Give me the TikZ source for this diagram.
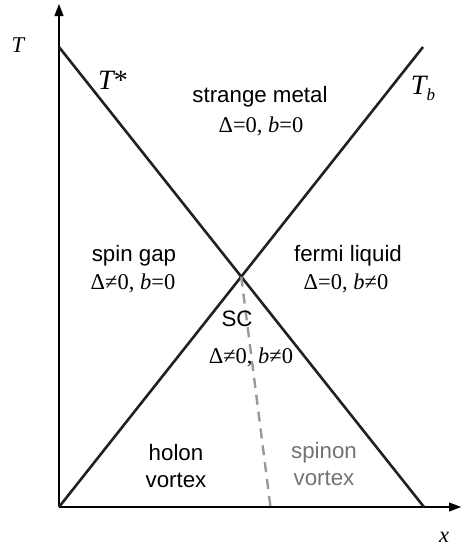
\documentclass[tikz,border=0pt]{standalone}
\usepackage{fontspec}
\setmainfont{Liberation Sans}
\newfontfamily\serifm{Liberation Serif}
\usetikzlibrary{arrows.meta,calc}
\begin{document}
\begin{tikzpicture}[x=1pt,y=-1pt,
  phase/.style={font=\fontsize{22.3}{27}\selectfont, inner sep=0pt, align=center},
  mathlbl/.style={font=\serifm\fontsize{22.5}{26}\selectfont, inner sep=0pt},
  biglbl/.style={font=\serifm\fontsize{28}{32}\selectfont, inner sep=0pt},
  axis/.style={line width=1.2pt, black},
  bound/.style={line width=2.6pt, color=black!87},
  sep/.style={line width=2.4pt, color=black!40, dash pattern=on 10pt off 7pt}]
\useasboundingbox (0,0) rectangle (461,547);
\coordinate (O) at (59,507);
\coordinate (Ytop) at (59,4);
\coordinate (Xend) at (461,507);
\coordinate (A) at (59,47);
\coordinate (B) at (424,507);
\coordinate (C) at (423,47);
\coordinate (D) at (270.5,507);
\coordinate (X) at (intersection of A--B and O--C);
\draw[axis,-{Triangle[length=12pt,width=9pt]}] (O) -- (Ytop);
\draw[axis,-{Triangle[length=12pt,width=9pt]}] (O) -- (Xend);
\draw[bound] (A) -- (B);
\draw[bound] (O) -- (C);
\draw[sep] (X) -- (D);
\node[mathlbl] (T) at (18,45) {\itshape T};
\node[mathlbl] (x) at (444,537) {\itshape x};
\node[biglbl] (Tstar) at (113,80) {\itshape T\upshape *};
\node[biglbl] (Tb) at (423,88) {\itshape T\raisebox{-6pt}{\fontsize{17}{19}\selectfont b}};
\node[phase] (sm) at (260,97) {strange metal};
\node[mathlbl] (smv) at (261,126) {Δ=0, \textit{b}=0};
\node[phase] (sg) at (134,256) {spin gap};
\node[mathlbl] (sgv) at (133,283) {Δ≠0, \textit{b}=0};
\node[phase] (fl) at (348,256) {fermi liquid};
\node[mathlbl] (flv) at (346,283) {Δ=0, \textit{b}≠0};
\node[phase] (sc) at (237,319) {SC};
\node[mathlbl] (scv) at (251,357) {Δ≠0, \textit{b}≠0};
\node[phase] (hv) at (176,466) {holon\\vortex};
\node[phase, text=black!55] (sv) at (324,464) {spinon\\vortex};
\end{tikzpicture}
\end{document}
